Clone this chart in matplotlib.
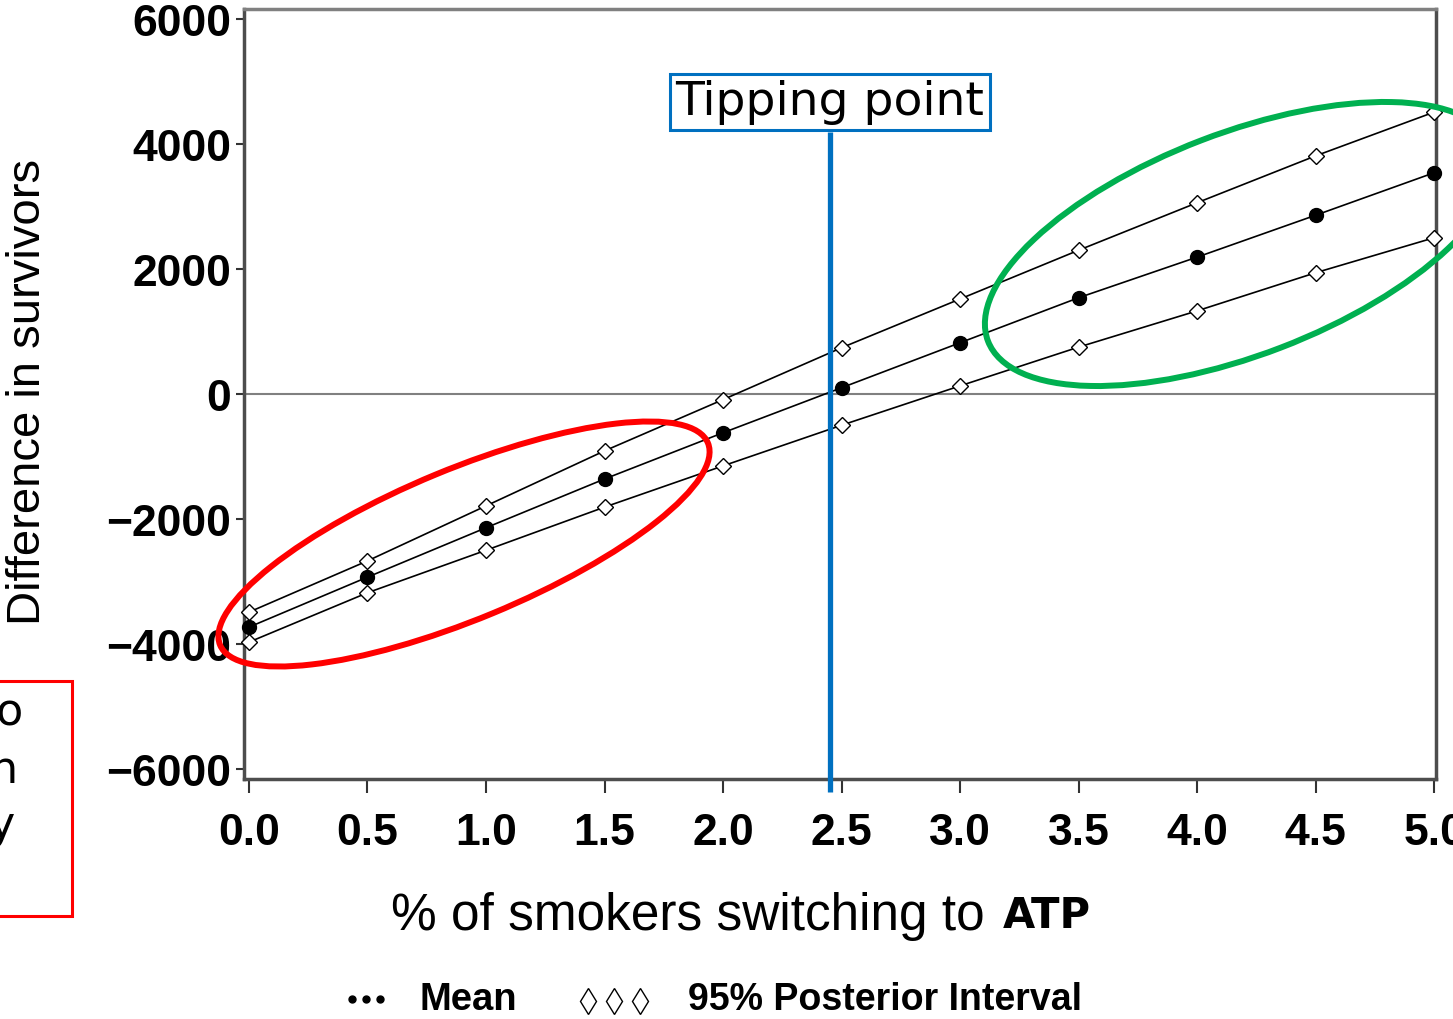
import matplotlib
matplotlib.use('agg')
import matplotlib.pyplot as plt
from matplotlib.patches import Ellipse, Rectangle
from matplotlib.lines import Line2D

# data
pct_switching = [0.0, 0.5, 1.0, 1.5, 2.0, 2.5, 3.0, 3.5, 4.0, 4.5, 5.0]
mean_diff = [-3730, -2930, -2140, -1360, -620, 100, 820, 1540, 2190, 2860, 3540]
upper_95 = [-3490, -2670, -1790, -910, -90, 740, 1520, 2300, 3060, 3810, 4510]
lower_95 = [-3970, -3180, -2500, -1810, -1150, -500, 130, 750, 1330, 1940, 2500]
y_ticks = [-6000, -4000, -2000, 0, 2000, 4000, 6000]
x_ticks = [0.0, 0.5, 1.0, 1.5, 2.0, 2.5, 3.0, 3.5, 4.0, 4.5, 5.0]
tipping_point = 2.45

W, H = 1453, 1020
BLUE = '#0070C0'
TICK_FONT = 'Liberation Sans'


def fx(px):
    return px / W


def fy(py):
    return 1 - py / H


fig = plt.figure(figsize=(W / 100, H / 100), dpi=100)
ax = fig.add_axes([fx(244), fy(780), fx(1436) - fx(244), fy(10) - fy(780)])

ax.axhline(0, color='#808080', lw=1.5, zorder=1)

ax.plot(pct_switching, upper_95, color='k', lw=1.2, marker='D', ms=8,
        mfc='white', mec='k', mew=1, clip_on=False, zorder=3)
ax.plot(pct_switching, lower_95, color='k', lw=1.2, marker='D', ms=8,
        mfc='white', mec='k', mew=1, clip_on=False, zorder=3)
ax.plot(pct_switching, mean_diff, color='k', lw=1.2, marker='o', ms=10,
        clip_on=False, zorder=3)

ax.set_xlim(-0.021, 5.008)
ax.set_ylim(-6160, 6160)
ax.set_xticks(x_ticks)
ax.set_xticklabels([f'{v:.1f}' for v in x_ticks])
ax.set_yticks(y_ticks)

for s in ax.spines.values():
    s.set_color('#4d4d4d')
    s.set_linewidth(2.5)
ax.spines['top'].set_color('#808080')

ax.tick_params(axis='y', length=6, width=1.5, color='#333333', pad=3,
               labelsize=32, labelfontfamily=TICK_FONT)
ax.tick_params(axis='x', length=10, width=1.5, color='#333333', pad=14,
               labelsize=32, labelfontfamily=TICK_FONT)
for lab in ax.get_xticklabels() + ax.get_yticklabels():
    lab.set_fontweight('bold')

# tipping point marker
ax.vlines(tipping_point, -6370, 4190, color=BLUE, lw=3.8, clip_on=False, zorder=4)
ax.text(tipping_point, 4672, 'Tipping point', ha='center', va='center',
        fontsize=34, family='DejaVu Sans', zorder=5,
        bbox=dict(boxstyle='square,pad=0.12', fc='white', ec=BLUE, lw=2.2))

# axis titles
fig.text(fx(28), fy(392), 'Difference in survivors', rotation=90,
         ha='center', va='center', fontsize=34, family='Liberation Sans')
fig.text(fx(985), fy(930), '% of smokers switching to', ha='right',
         va='baseline', fontsize=37, family='Liberation Sans')
fig.text(fx(1003), fy(928), 'ATP', ha='left', va='baseline', fontsize=30,
         family='DejaVu Sans', weight='bold')

# legend row
dot_x = [352, 366, 380]
dia_x = [588, 614, 640]
fig.add_artist(Line2D([fx(v) for v in dot_x], [fy(1000)] * 3,
                      transform=fig.transFigure, ls='none', marker='o',
                      ms=5, color='k'))
fig.add_artist(Line2D([fx(v) for v in dia_x], [fy(1002)] * 3,
                      transform=fig.transFigure, ls='none', marker='d',
                      ms=13, mfc='white', mec='k', mew=1))
fig.text(fx(420), fy(1010), 'Mean', ha='left', va='baseline', fontsize=27.5,
         family=TICK_FONT, weight='bold')
fig.text(fx(688), fy(1010), '95% Posterior Interval', ha='left',
         va='baseline', fontsize=27, family=TICK_FONT, weight='bold')

# highlight ellipses
fig.add_artist(Ellipse((4.64, 4.75), 5.28, 1.5, angle=22.5,
                       transform=fig.dpi_scale_trans, fill=False,
                       ec='#FF0000', lw=4.3, zorder=10))
fig.add_artist(Ellipse((12.41, 7.75), 5.42, 2.22, angle=21,
                       transform=fig.dpi_scale_trans, fill=False,
                       ec='#00B050', lw=4.3, zorder=10))

# cropped side note box at the left edge
fig.add_artist(Rectangle((fx(-20), fy(917)), fx(92), fy(682) - fy(917),
                         transform=fig.transFigure, fill=False,
                         ec='#FF0000', lw=2.2))
fig.text(fx(23), fy(725), 'o', ha='right', va='baseline', fontsize=32, family='DejaVu Sans')
fig.text(fx(18), fy(783), 'n', ha='right', va='baseline', fontsize=32, family='DejaVu Sans')
fig.text(fx(15), fy(838), 'y', ha='right', va='baseline', fontsize=32, family='DejaVu Sans')

fig.savefig('out.png', dpi=100)
